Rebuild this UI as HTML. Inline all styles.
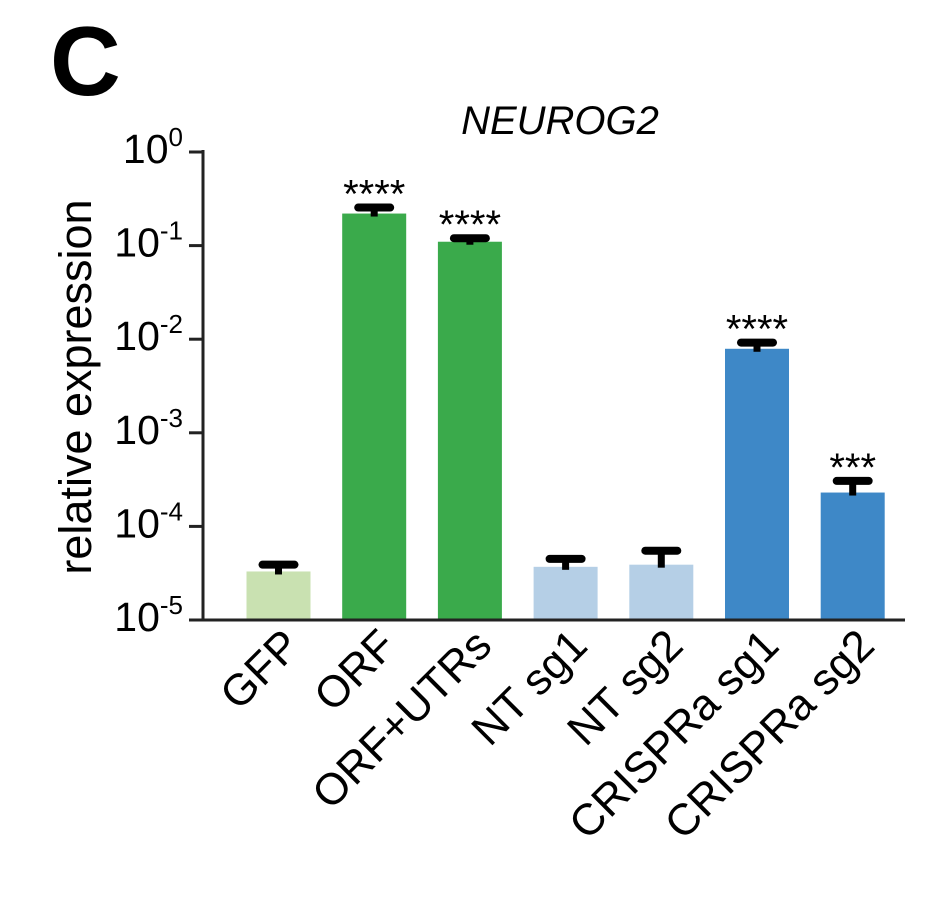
<!DOCTYPE html>
<html><head><meta charset="utf-8"><style>body{margin:0;background:#fff}svg{display:block;font-family:"Liberation Sans",Arial,sans-serif}</style></head>
<body>
<svg id="c" width="934" height="900">
<text x="50" y="95" font-size="98" font-weight="bold">C</text>
<text x="560" y="134" font-size="40" font-style="italic" text-anchor="middle">NEUROG2</text>
<text transform="translate(91,387) rotate(-90)" font-size="45" text-anchor="middle">relative expression</text>
<g id="g"></g>
</svg>
<script>
const categories=["GFP","ORF","ORF+UTRs","NT sg1","NT sg2","CRISPRa sg1","CRISPRa sg2"];
const values=[3.3e-5,0.22,0.11,3.7e-5,3.9e-5,7.9e-3,2.3e-4];
const errTops=[3.9e-5,0.255,0.12,4.5e-5,5.5e-5,9.2e-3,3.06e-4];
const stars=["","****","****","","","****","***"];
const colors=["#c9e1b1","#3aaa4b","#3aaa4b","#b5cfe6","#b5cfe6","#3e88c7","#3e88c7"];
const tickExps=[0,-1,-2,-3,-4,-5];
const NS="http://www.w3.org/2000/svg";
const g=document.getElementById('g');
const y0=620,dec=93.6;
function yScale(v){return y0-(Math.log10(v)+5)*dec;}
const left=203,step=95.7,first=278.5,bw=64;
function xScale(i){return first+i*step;}
function mk(t,a,p){const e=document.createElementNS(NS,t);for(const k in a)e.setAttribute(k,a[k]);(p||g).appendChild(e);return e;}
let ax=mk('line',{x1:left,y1:150,x2:left,y2:621,stroke:'#222','stroke-width':3});


let xa=mk('line',{x1:left-1.5,y1:620,x2:905,y2:620,stroke:'#222','stroke-width':3});


tickExps.forEach(e=>{const y=yScale(Math.pow(10,e));
 let t=mk('line',{x1:left-14,y1:y,x2:left,y2:y,stroke:'#222','stroke-width':3});
 
 
 let tx=mk('text',{x:left-20,y:y+11,'font-size':41,'text-anchor':'end'});
 
 
 tx.textContent='10';
 let s=mk('tspan',{dy:-17,'font-size':26},tx);s.textContent=String(e);
});
categories.forEach((c,i)=>{
 const cx=xScale(i),top=yScale(values[i]);
 let r=mk('rect',{x:cx-bw/2,y:top,width:bw,height:y0-1.5-top,fill:colors[i]});
 
 
 const et=yScale(errTops[i]);
 let e=mk('line',{x1:cx,y1:top+3,x2:cx,y2:et,stroke:'#000','stroke-width':7});
 
 
 let cap=mk('line',{x1:cx-16,y1:et,x2:cx+16,y2:et,stroke:'#000','stroke-width':8,'stroke-linecap':'round'});
 
 
 if(stars[i]){let s=mk('text',{x:cx,y:et,'font-size':40,'text-anchor':'middle'});
  
  
  s.textContent=stars[i];}
 let l=mk('text',{transform:`translate(${cx+24},${648}) rotate(-45)`,'font-size':44,'text-anchor':'end'});
 
 
 l.textContent=c;
});
</script>
</body></html>
